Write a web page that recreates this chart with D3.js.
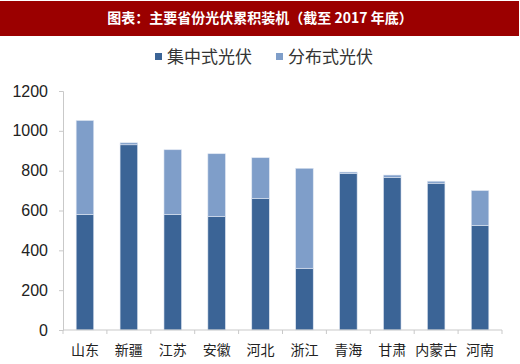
<!DOCTYPE html>
<html>
<head>
<meta charset="utf-8">
<script src="https://cdn.jsdelivr.net/npm/d3@7"></script>
<style>
  body { margin: 0; background: #fff; }
  svg { display: block; font-family: "Liberation Sans", Arial, sans-serif; }
</style>
</head>
<body>
<svg id="chart" width="520" height="364"></svg>
<script>
const provinces = ["山东", "新疆", "江苏", "安徽", "河北", "浙江", "青海", "甘肃", "内蒙古", "河南"];
const centralized = [580, 930, 580, 570, 660, 310, 785, 765, 737, 525];
const distributed = [472, 10, 325, 315, 205, 502, 8, 13, 10, 175];
const seriesNames = ["集中式光伏", "分布式光伏"];
const seriesColors = ["#3b6496", "#7f9ec9"];
const yTicks = [0, 200, 400, 600, 800, 1000, 1200];

const svg = d3.select("#chart");
const cjk = '"Noto Sans CJK SC", sans-serif';

// title bar
svg.append("rect")
  .attr("x", 0).attr("y", 1)
  .attr("width", 519).attr("height", 35)
  .attr("fill", "#9b0000");
svg.append("text")
  .attr("x", 260).attr("y", 23)
  .attr("text-anchor", "middle")
  .style("font-family", cjk)
  .style("font-size", "14px")
  .style("font-weight", "bold")
  .style("fill", "#fff")
  .text("图表：主要省份光伏累积装机（截至 2017 年底）");

const plotLeft = 63, plotRight = 502, plotTop = 91, plotBottom = 330;

const x = d3.scaleBand()
  .domain(provinces)
  .range([plotLeft, plotRight])
  .paddingInner(0.6)
  .paddingOuter(0.3);

const y = d3.scaleLinear()
  .domain([0, 1200])
  .range([plotBottom, plotTop]);

// y axis
const yaxis = svg.append("g")
  .attr("transform", "translate(" + plotLeft + ",0)")
  .call(d3.axisLeft(y).tickValues(yTicks).tickFormat(d3.format("d")).tickSize(4).tickPadding(11));
yaxis.selectAll("path").style("stroke", "#c9c9c9");
yaxis.selectAll("line").style("stroke", "#c9c9c9");
yaxis.selectAll("text")
  .style("font-size", "16px")
  .style("fill", "#222");

// stacked bars
const rows = provinces.map((p, i) => ({ p: p, c: centralized[i], d: distributed[i] }));
const stack = d3.stack().keys(["c", "d"])(rows);

stack.forEach((layer, k) => {
  svg.append("g")
    .selectAll("rect")
    .data(layer)
    .enter()
    .append("rect")
    .attr("x", d => x(d.data.p))
    .attr("y", d => y(d[1]))
    .attr("width", x.bandwidth())
    .attr("height", d => y(d[0]) - y(d[1]))
    .attr("fill", seriesColors[k])
    .attr("stroke", "#dfe6f2")
    .attr("stroke-width", 0.6);
});

// x axis
const slot = (plotRight - plotLeft) / provinces.length;
const xaxis = svg.append("g")
  .attr("transform", "translate(0," + plotBottom + ")");
xaxis.append("line")
  .attr("x1", plotLeft).attr("x2", plotRight)
  .attr("stroke", "#c9c9c9");
xaxis.selectAll("line.tick")
  .data(d3.range(provinces.length + 1))
  .enter()
  .append("line")
  .attr("class", "tick")
  .attr("x1", i => plotLeft + i * slot)
  .attr("x2", i => plotLeft + i * slot)
  .attr("y2", 4)
  .attr("stroke", "#c9c9c9");
xaxis.selectAll("text")
  .data(provinces)
  .enter()
  .append("text")
  .attr("x", d => x(d) + x.bandwidth() / 2)
  .attr("y", 25)
  .attr("text-anchor", "middle")
  .style("font-family", cjk)
  .style("font-size", "14px")
  .style("fill", "#222")
  .text(d => d);

// legend
const legend = svg.append("g");
const legendX = [155, 276];
seriesNames.forEach((name, k) => {
  legend.append("rect")
    .attr("x", legendX[k]).attr("y", 53)
    .attr("width", 7).attr("height", 7)
    .attr("fill", seriesColors[k]);
  legend.append("text")
    .attr("x", legendX[k] + 12).attr("y", 63)
    .style("font-family", cjk)
    .style("font-size", "17px")
    .style("fill", "#333")
    .text(name);
});
</script>
</body>
</html>
